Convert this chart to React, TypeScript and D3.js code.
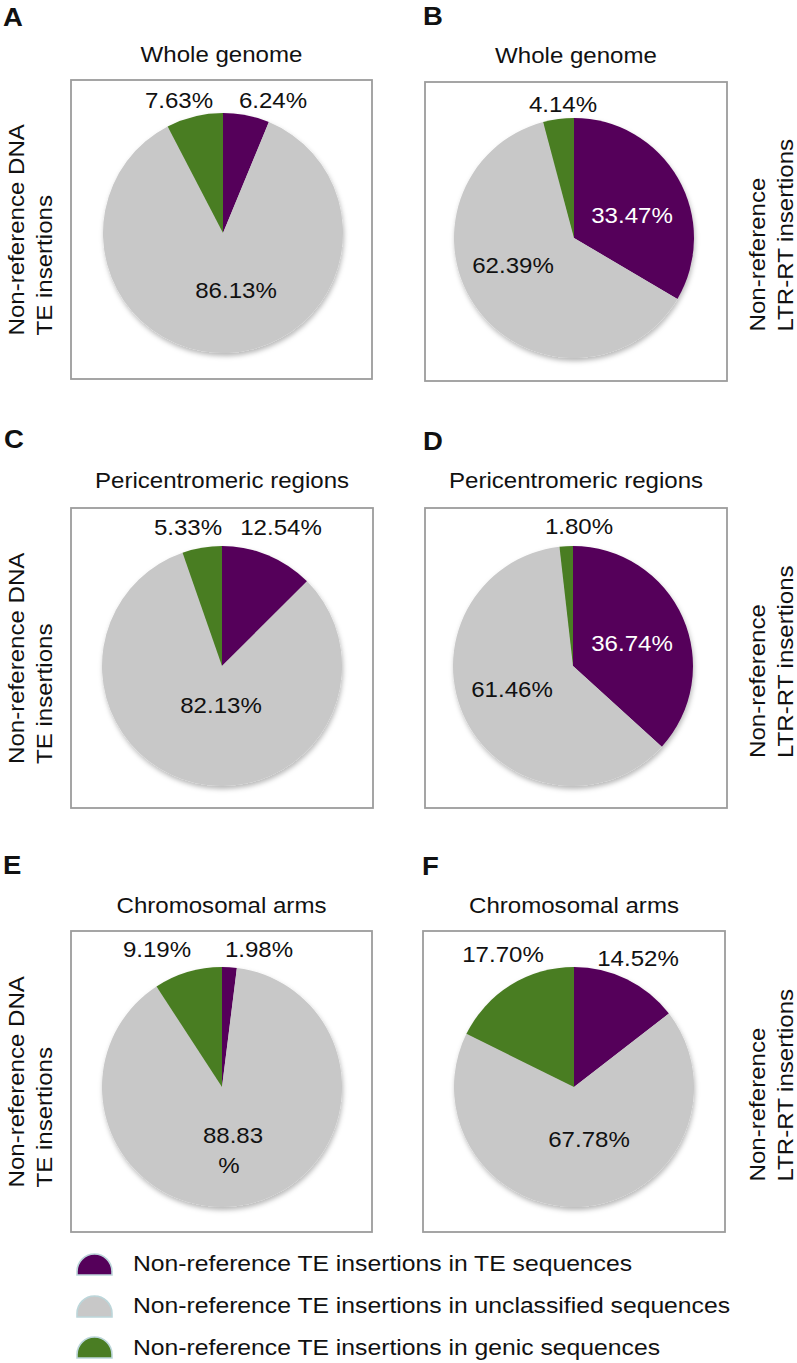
import React from "react";
import * as d3 from "d3";

// ---------- data ----------
const categories = [
  "Non-reference TE insertions in TE sequences",
  "Non-reference TE insertions in unclassified sequences",
  "Non-reference TE insertions in genic sequences",
];
const panelLetters = ["A", "B", "C", "D", "E", "F"];
const panelTitles = [
  "Whole genome",
  "Whole genome",
  "Pericentromeric regions",
  "Pericentromeric regions",
  "Chromosomal arms",
  "Chromosomal arms",
];
const teSeqValues = [6.24, 33.47, 12.54, 36.74, 1.98, 14.52];
const unclassifiedValues = [86.13, 62.39, 82.13, 61.46, 88.83, 67.78];
const genicValues = [7.63, 4.14, 5.33, 1.8, 9.19, 17.7];
const sideLabelsDNA = ["Non-reference DNA", "TE insertions"];
const sideLabelsLTR = ["Non-reference", "LTR-RT insertions"];

// ---------- styles / layout ----------
const colors = ["#55005a", "#c8c8c8", "#4a7d23"];
const FONT = "'Liberation Sans', Arial, Helvetica, sans-serif";
const FS = 21.5;
const SX = 1.12;
const R = 120;

// box [x, y, w, h], pie center [cx, cy], title baseline, letter [x, baseline]
const panelLayout = [
  { box: [71, 80, 301, 299], c: [223, 233], tY: 62, let: [3, 26] },
  { box: [425, 82, 302, 299], c: [574, 238], tY: 63, let: [423, 25] },
  { box: [71, 508, 302, 300], c: [222, 666], tY: 488, let: [4, 448] },
  { box: [425, 508, 302, 300], c: [573, 666], tY: 488, let: [423, 450] },
  { box: [71, 931, 301, 301], c: [222, 1087], tY: 913, let: [3, 874] },
  { box: [423, 931, 302, 301], c: [574, 1087], tY: 913, let: [422, 875] },
];
// label offsets (dx, baseline dy) relative to pie center, order: TE, unclassified, genic
const labelOffsets = [
  [[50, -125], [13, 65], [-44, -125]],
  [[58, -15], [-61, 35], [-11, -126]],
  [[59, -131], [-1, 47], [-34, -131]],
  [[59, -15], [-61, 31], [6, -132]],
  [[37, -130], [11, 56], [-65, -130]],
  [[64, -121], [15, 60], [-71, -125]],
];
const whiteLabelPanels = [1, 3];

function Txt(props: any) {
  const { x, y, rotate = 0, anchor = "middle", size = FS, weight = "normal", fill = "#111", sx = SX, children } = props;
  return (
    <text
      transform={`translate(${x},${y}) rotate(${rotate}) scale(${sx},1)`}
      textAnchor={anchor}
      fontSize={size}
      fontWeight={weight}
      fontFamily={FONT}
      fill={fill}
    >
      {children}
    </text>
  );
}

function Panel({ i }: { i: number }) {
  const L = panelLayout[i];
  const values = [teSeqValues[i], unclassifiedValues[i], genicValues[i]];
  const arcs = d3.pie<number>().sort(null).value((d) => d)(values);
  const arcGen = d3.arc<d3.PieArcDatum<number>>().innerRadius(0).outerRadius(R);
  const [bx, by, bw, bh] = L.box;
  const [cx, cy] = L.c;
  const isLeft = i % 2 === 0;
  const side = isLeft ? sideLabelsDNA : sideLabelsLTR;
  const boxCy = by + bh / 2;
  const halfLen = isLeft ? 106 : 100;
  const sideX = isLeft ? [24, 52] : [765, 793];
  return (
    <g>
      <Txt x={L.let[0]} y={L.let[1]} anchor="start" size={25} weight="bold" sx={1.1}>
        {panelLetters[i]}
      </Txt>
      <Txt x={bx + bw / 2} y={L.tY}>
        {panelTitles[i]}
      </Txt>
      <rect x={bx} y={by} width={bw} height={bh} fill="#fff" stroke="#9c9c9c" strokeWidth={1.8} />
      <g transform={`translate(${cx},${cy})`} filter="url(#pieShadow)">
        {arcs.map((a, k) => (
          <path key={k} d={arcGen(a) || ""} fill={colors[k]} />
        ))}
      </g>
      {values.map((v, k) => {
        const [dx, dy] = labelOffsets[i][k];
        const txt = v.toFixed(2);
        const fill = k === 0 && whiteLabelPanels.includes(i) ? "#ffffff" : "#111";
        if (i === 4 && k === 1) {
          return (
            <g key={k}>
              <Txt x={cx + dx} y={cy + dy} fill={fill}>{txt}</Txt>
              <Txt x={cx + dx - 4} y={cy + dy + 30} fill={fill}>%</Txt>
            </g>
          );
        }
        return (
          <Txt key={k} x={cx + dx} y={cy + dy} fill={fill}>
            {txt + "%"}
          </Txt>
        );
      })}
      {side.map((s, k) => (
        <Txt key={k} x={sideX[k]} y={boxCy + halfLen} rotate={-90} anchor="start">
          {s}
        </Txt>
      ))}
    </g>
  );
}

export default function App() {
  const legendY = [1275, 1317, 1358];
  const iconX = 77;
  const iconW = 35;
  const iconH = 21;
  return (
    <svg
      width={797}
      height={1363}
      viewBox="0 0 797 1363"
      style={{ position: "absolute", left: 0, top: 0, background: "#fff" }}
    >
      <defs>
        <filter id="pieShadow" x="-20%" y="-20%" width="140%" height="140%">
          <feDropShadow dx="1" dy="3" stdDeviation="2.5" floodColor="#000" floodOpacity="0.28" />
        </filter>
      </defs>
      <rect x={0} y={0} width={797} height={1363} fill="#fff" />
      {panelLayout.map((_, i) => (
        <Panel key={i} i={i} />
      ))}
      {categories.map((c, k) => {
        const yb = legendY[k];
        const r = iconW / 2;
        const d = `M${iconX},${yb} L${iconX},${yb - iconH + r} A${r},${r} 0 0 1 ${iconX + iconW},${yb - iconH + r} L${iconX + iconW},${yb} Z`;
        return (
          <g key={k}>
            <path d={d} fill={colors[k]} stroke="#bcd6da" strokeWidth={1.6} />
            <Txt x={133} y={yb - 4 + (k === 2 ? 1 : 0)} anchor="start" sx={1.15}>
              {c}
            </Txt>
          </g>
        );
      })}
    </svg>
  );
}
